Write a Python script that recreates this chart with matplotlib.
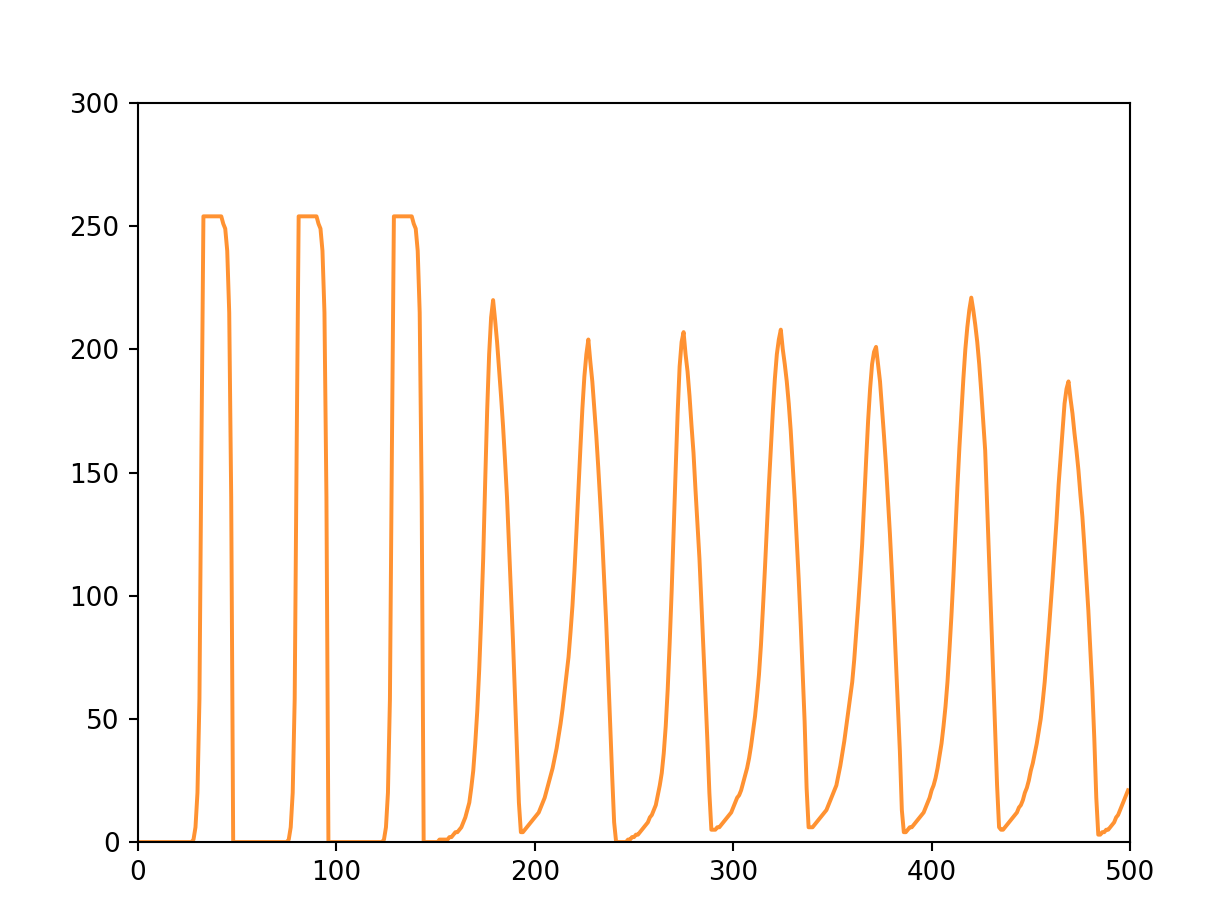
import matplotlib
matplotlib.use("Agg")
import matplotlib.pyplot as plt
import numpy as np

# ---- data (y value at each integer x = 0..499) ----
lead_zeros = [0] * 28  # x 0..27
pulse1 = [1, 6, 20, 58, 160, 254, 254, 254, 254, 254, 254, 254, 254, 254, 254,
          251, 249, 240, 215, 140, 0]  # x 28..48
gap1 = [0] * 27  # x 49..75
pulse2 = [1, 6, 20, 58, 160, 254, 254, 254, 254, 254, 254, 254, 254, 254, 254,
          251, 249, 240, 215, 140, 0]  # x 76..96
gap2 = [0] * 27  # x 97..123
pulse3 = [1, 6, 20, 58, 160, 254, 254, 254, 254, 254, 254, 254, 254, 254, 254,
          251, 249, 240, 215, 140, 0]  # x 124..144
gap3 = [0] * 7  # x 145..151
cycle1 = [1, 1, 1, 1, 1, 2, 2, 3, 4, 4, 5, 6, 8, 10, 13, 16, 22, 29, 40, 53,
          70, 91, 115, 146, 175, 198, 213, 220, 212, 203, 192, 181, 169, 155,
          140, 121, 103, 82, 60, 38, 16, 4]  # x 152..193
cycle2 = [4, 5, 6, 7, 8, 9, 10, 11, 12, 14, 16, 18, 21, 24, 27, 30, 34, 38, 43,
          48, 54, 61, 68, 75, 85, 96, 110, 126, 143, 160, 176, 189, 198, 204,
          195, 187, 176, 165, 152, 138, 123, 106, 89, 69, 48, 27, 8, 0]  # x 194..241
gap4 = [0] * 5  # x 242..246
cycle3 = [1, 1, 2, 2, 3, 3, 4, 5, 6, 7, 8, 10, 11, 13, 15, 19, 23, 28, 36, 47,
          62, 81, 102, 127, 151, 174, 193, 203, 207, 198, 191, 181, 169, 158,
          143, 129, 115, 97, 79, 60, 41, 20, 5]  # x 247..289
cycle4 = [5, 5, 6, 6, 7, 8, 9, 10, 11, 12, 14, 16, 18, 19, 21, 24, 27, 30, 34,
          39, 45, 51, 59, 68, 80, 95, 111, 128, 145, 160, 175, 188, 198, 204,
          208, 200, 194, 187, 178, 167, 153, 139, 123, 107, 89, 69, 49, 22, 6]  # x 290..338
cycle5 = [6, 6, 7, 8, 9, 10, 11, 12, 13, 15, 17, 19, 21, 23, 27, 31, 36, 41, 47,
          53, 59, 65, 74, 85, 96, 108, 121, 138, 155, 171, 184, 194, 199, 201,
          194, 187, 176, 165, 153, 139, 125, 109, 92, 74, 55, 37, 13, 4]  # x 339..386
cycle6 = [4, 5, 6, 6, 7, 8, 9, 10, 11, 12, 14, 16, 18, 21, 23, 26, 30, 35, 40,
          47, 55, 65, 78, 92, 108, 126, 144, 160, 174, 188, 200, 209, 216, 221,
          216, 210, 203, 194, 183, 171, 159, 136, 114, 92, 69, 46, 23, 6, 5]  # x 387..435
cycle7 = [5, 6, 7, 8, 9, 10, 11, 12, 14, 15, 17, 20, 22, 25, 29, 32, 36, 40, 45,
          50, 57, 65, 75, 85, 96, 107, 119, 131, 145, 156, 167, 178, 184, 187,
          180, 174, 166, 159, 151, 141, 132, 120, 107, 94, 78, 62, 42, 18, 3]  # x 436..484
tail = [3, 4, 4, 5, 5, 6, 7, 8, 10, 11, 13, 15, 17, 19, 21]  # x 485..499

x_ticks = [0, 100, 200, 300, 400, 500]
y_ticks = [0, 50, 100, 150, 200, 250, 300]

y_values = (lead_zeros + pulse1 + gap1 + pulse2 + gap2 + pulse3 + gap3 +
            cycle1 + cycle2 + gap4 + cycle3 + cycle4 + cycle5 + cycle6 +
            cycle7 + tail)
x_values = np.arange(len(y_values))

fig = plt.figure(figsize=(1210 / 189, 924 / 189), dpi=189)
ax = fig.add_axes([0.1140, 0.0887, 0.9339 - 0.1140, 0.8885 - 0.0887])
ax.plot(x_values, y_values, color="#ff7f0e", alpha=0.85, linewidth=1.5)
ax.set_xlim(0, 500)
ax.set_ylim(0, 300)
ax.set_xticks(x_ticks)
ax.set_yticks(y_ticks)

fig.savefig("out.png", dpi=189)
